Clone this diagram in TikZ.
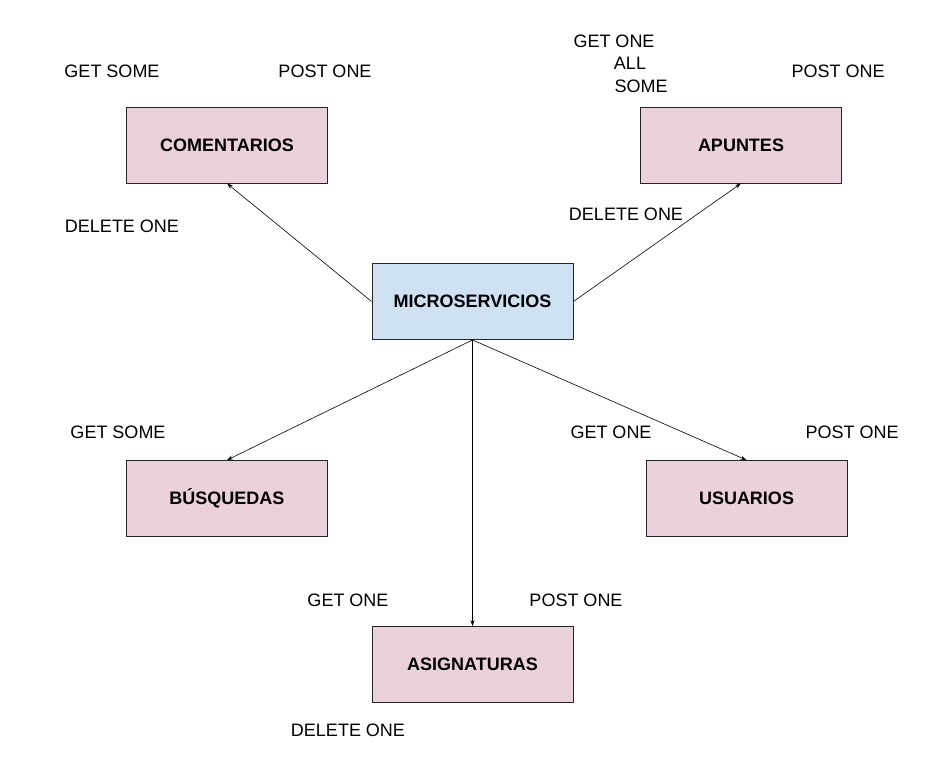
\documentclass[tikz,border=0pt]{standalone}
\usepackage{fontspec}
\usetikzlibrary{arrows.meta}
\setmainfont{Liberation Sans}
\definecolor{pinkfill}{HTML}{EAD1DC}
\definecolor{bluefill}{HTML}{CFE2F3}
\begin{document}
\begin{tikzpicture}[x=1pt,y=-1pt,
  box/.style={draw=black!85,line width=0.9pt,minimum width=201pt,minimum height=76pt,inner sep=0pt,font=\fontsize{18}{20}\selectfont\bfseries,fill=pinkfill},
  lbl/.style={font=\fontsize{18}{20}\selectfont,inner sep=0pt},
  conn/.style={draw=black,line width=0.6pt,-{Stealth[length=6pt,width=4pt]}}]
\useasboundingbox (0,0) rectangle (945,775);
\node[box,fill=bluefill] (micro) at (472.5,301.5) {MICROSERVICIOS};
\node[box] (com) at (227,145) {COMENTARIOS};
\node[box] (apu) at (741,145) {APUNTES};
\node[box] (bus) at (227,498.5) {BÚSQUEDAS};
\node[box] (usu) at (746.5,498.5) {USUARIOS};
\node[box] (asi) at (472.5,664.5) {ASIGNATURAS};
\draw[conn] (micro.west) -- (com.south);
\draw[conn] (micro.east) -- (apu.south);
\draw[conn] (micro.south) -- (bus.north);
\draw[conn] (micro.south) -- (usu.north);
\draw[conn] (micro.south) -- (asi.north);
\node[lbl] (c1) at (112,71) {GET SOME};
\node[lbl] (c2) at (325,71) {POST ONE};
\node[lbl] (c3) at (122,226) {DELETE ONE};
\node[lbl] (a1) at (614,41) {GET ONE};
\node[lbl] (a2) at (630,63) {ALL};
\node[lbl] (a3) at (641,86) {SOME};
\node[lbl] (a4) at (838,71) {POST ONE};
\node[lbl] (a5) at (626,214) {DELETE ONE};
\node[lbl] (b1) at (118,432) {GET SOME};
\node[lbl] (u1) at (611,432) {GET ONE};
\node[lbl] (u2) at (852,432) {POST ONE};
\node[lbl] (s1) at (348,600) {GET ONE};
\node[lbl] (s2) at (576,600) {POST ONE};
\node[lbl] (s3) at (348,730) {DELETE ONE};
\end{tikzpicture}
\end{document}
